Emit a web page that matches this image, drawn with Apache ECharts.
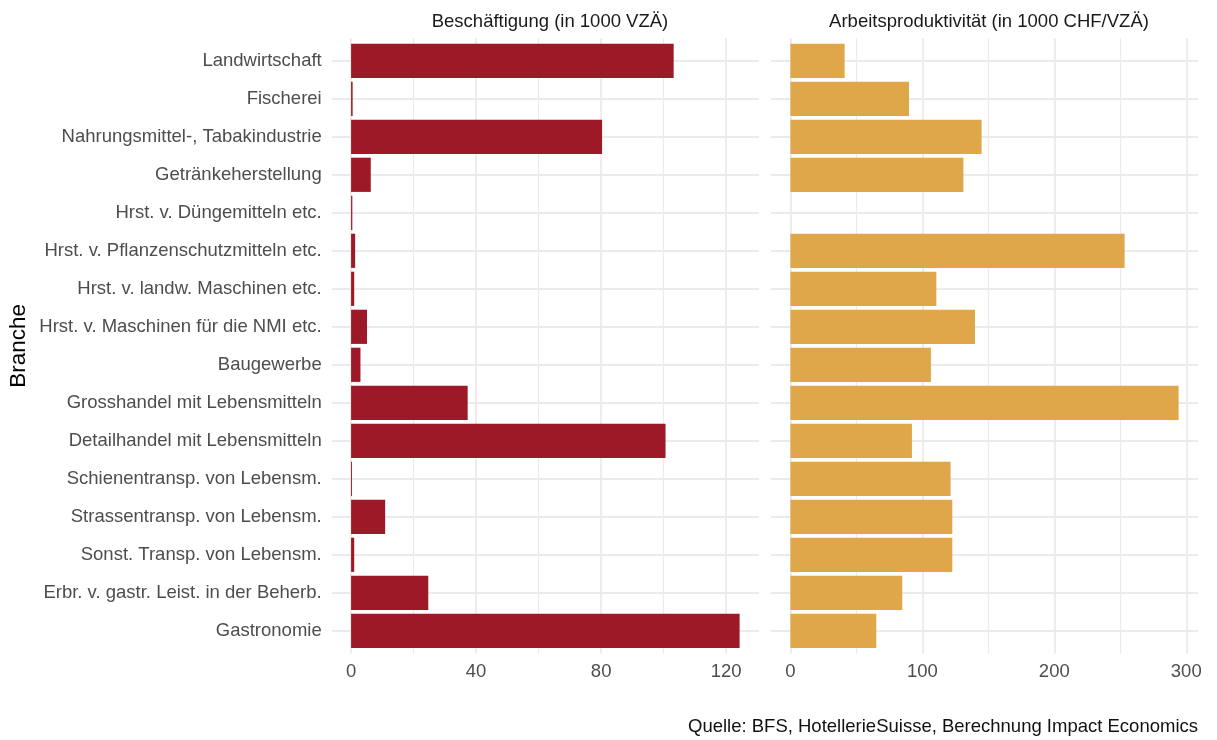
<!DOCTYPE html>
<html>
<head>
<meta charset="utf-8">
<script src="https://cdn.jsdelivr.net/npm/echarts@6/dist/echarts.min.js"></script>
<style>
    html, body { margin: 0; padding: 0; background: #fff; }
    #chart { width: 1217px; height: 740px; }
</style>
</head>
<body>
<div id="chart"></div>
<script>
    // Branchen, von oben nach unten
    const branchen = [
        "Landwirtschaft",
        "Fischerei",
        "Nahrungsmittel-, Tabakindustrie",
        "Getränkeherstellung",
        "Hrst. v. Düngemitteln etc.",
        "Hrst. v. Pflanzenschutzmitteln etc.",
        "Hrst. v. landw. Maschinen etc.",
        "Hrst. v. Maschinen für die NMI etc.",
        "Baugewerbe",
        "Grosshandel mit Lebensmitteln",
        "Detailhandel mit Lebensmitteln",
        "Schienentransp. von Lebensm.",
        "Strassentransp. von Lebensm.",
        "Sonst. Transp. von Lebensm.",
        "Erbr. v. gastr. Leist. in der Beherb.",
        "Gastronomie"
    ];

    // Beschäftigung (in 1000 VZÄ)
    const beschaeftigung = [103.2, 0.5, 80.3, 6.3, 0.4, 1.3, 1.0, 5.1, 3.0, 37.3, 100.6, 0.3, 10.9, 1.0, 24.7, 124.3];
    // Arbeitsproduktivität (in 1000 CHF/VZÄ), Düngemittel fehlt
    const produktivitaet = [41.1, 89.9, 144.9, 131.1, null, 253.3, 110.6, 139.9, 106.5, 294.2, 92.1, 121.4, 122.7, 122.7, 84.8, 65.1];

    const ticksLinks = [0, 40, 80, 120];
    const minorLinks = [20, 60, 100];
    const ticksRechts = [0, 100, 200, 300];
    const minorRechts = [50, 150, 250];

    const panelTitel = ["Beschäftigung (in 1000 VZÄ)", "Arbeitsproduktivität (in 1000 CHF/VZÄ)"];
    const quelle = "Quelle: BFS, HotellerieSuisse, Berechnung Impact Economics";

    const FONT = "Liberation Sans";
    const FS = 18.5;
    const GRID = "#EBEBEB";

    function toPairs(values) {
        const out = [];
        values.forEach((v, i) => {
            if (v !== null) out.push([v, i]);
        });
        return out;
    }

    function barRenderer(color) {
        return function (params, api) {
            const v = api.value(0);
            const i = api.value(1);
            const start = api.coord([0, i]);
            const end = api.coord([v, i]);
            const h = api.size([0, 0.9])[1];
            return {
                type: "rect",
                shape: { x: start[0], y: start[1] - h / 2, width: end[0] - start[0], height: h },
                style: { fill: color }
            };
        };
    }

    function xAchse(grid, min, max, ticks, labels, width, position) {
        return {
            type: "value",
            gridIndex: grid,
            position: position,
            min: min,
            max: max,
            axisLine: { show: false },
            axisTick: { show: false, customValues: ticks },
            axisLabel: labels ? {
                customValues: labels,
                color: "#4D4D4D",
                fontSize: FS,
                fontFamily: FONT,
                margin: 9
            } : { show: false },
            splitLine: { show: true, lineStyle: { color: GRID, width: width } }
        };
    }

    function yAchse(grid, showLabels) {
        const idx = branchen.map((b, i) => i);
        return {
            type: "value",
            gridIndex: grid,
            inverse: true,
            min: -0.6,
            max: 15.6,
            axisLine: { show: false },
            axisTick: { show: false, customValues: idx },
            axisLabel: showLabels ? {
                customValues: idx,
                formatter: (v) => branchen[v],
                color: "#4D4D4D",
                fontSize: FS,
                fontFamily: FONT,
                margin: 10
            } : { show: false },
            splitLine: { show: true, lineStyle: { color: GRID, width: 1.8 } },
            name: showLabels ? "Branche" : "",
            nameLocation: "middle",
            nameRotate: 90,
            nameGap: 301,
            nameTextStyle: { color: "#000", fontSize: 22.5, fontFamily: FONT }
        };
    }

    const chart = echarts.init(document.getElementById("chart"), null, { renderer: "canvas" });

    const option = {
        animation: false,
        backgroundColor: "#fff",
        title: [
            {
                text: panelTitel[0], left: 545, top: 7, textAlign: "center",
                textStyle: { color: "#1A1A1A", fontSize: FS, fontWeight: "normal", fontFamily: FONT }
            },
            {
                text: panelTitel[1], left: 984, top: 7, textAlign: "center",
                textStyle: { color: "#1A1A1A", fontSize: FS, fontWeight: "normal", fontFamily: FONT }
            },
            {
                text: quelle, right: 14, top: 712,
                textStyle: { color: "#111", fontSize: FS, fontWeight: "normal", fontFamily: FONT }
            }
        ],
        grid: [
            { left: 331.7, top: 38, width: 427.3, height: 615.6 },
            { left: 771, top: 38, width: 427, height: 615.6 }
        ],
        xAxis: [
            xAchse(0, -6.2, 130.5, ticksLinks, ticksLinks, 1.8, "bottom"),
            xAchse(0, -6.2, 130.5, minorLinks, null, 1.2, "top"),
            xAchse(1, -14.7, 308.9, ticksRechts, ticksRechts, 1.8, "bottom"),
            xAchse(1, -14.7, 308.9, minorRechts, null, 1.2, "top")
        ],
        yAxis: [
            yAchse(0, true),
            yAchse(1, false)
        ],
        series: [
            {
                type: "custom",
                name: panelTitel[0],
                xAxisIndex: 0,
                yAxisIndex: 0,
                renderItem: barRenderer("#9E1927"),
                encode: { x: 0, y: 1 },
                data: toPairs(beschaeftigung)
            },
            {
                type: "custom",
                name: panelTitel[1],
                xAxisIndex: 2,
                yAxisIndex: 1,
                renderItem: barRenderer("#DFA74A"),
                encode: { x: 0, y: 1 },
                data: toPairs(produktivitaet)
            }
        ]
    };

    chart.setOption(option);
</script>
</body>
</html>
